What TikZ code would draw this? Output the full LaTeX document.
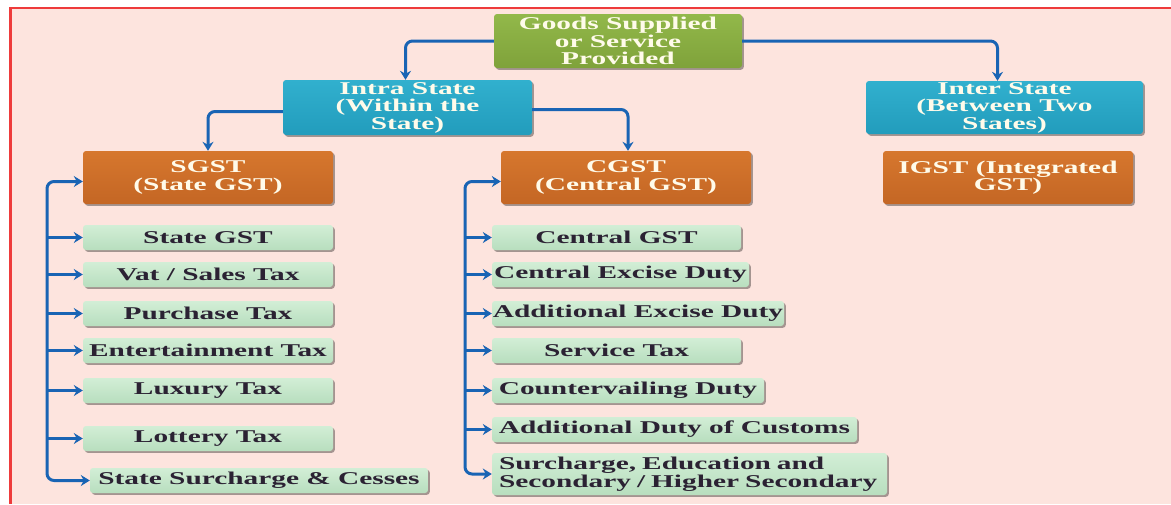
\documentclass[tikz,border=0pt]{standalone}
\usepackage{fontspec}
\newfontfamily\wf{Liberation Serif}[FakeStretch=1.63]
\usetikzlibrary{arrows.meta,shadows,calc}
\definecolor{bgpink}{HTML}{FDE4DE}
\definecolor{redline}{HTML}{EE3B3B}
\definecolor{ablue}{HTML}{1964B4}
\definecolor{gtop}{HTML}{D2EED6}
\definecolor{gbot}{HTML}{B8DEBE}
\definecolor{otop}{HTML}{D6772E}
\definecolor{obot}{HTML}{C46624}
\definecolor{ttop}{HTML}{31B0CE}
\definecolor{tbot}{HTML}{229CBC}
\definecolor{lgtop}{HTML}{92B84A}
\definecolor{lgbot}{HTML}{7FA23A}
\definecolor{dtxt}{HTML}{2B2233}
\definecolor{wtxt}{HTML}{FFFBEA}
\tikzset{
  base/.style={rounded corners=3pt, inner sep=0pt, align=center,
    font=\wf\bfseries\fontsize{18}{17.5}\selectfont,
    drop shadow={shadow xshift=1.8pt, shadow yshift=-1.8pt, fill=black, opacity=0.35}},
  gbox/.style={base, top color=gtop, bottom color=gbot, text=dtxt, minimum height=25pt},
  obox/.style={base, top color=otop, bottom color=obot, text=wtxt, minimum width=250pt, minimum height=53pt},
  tbox/.style={base, top color=ttop, bottom color=tbot, text=wtxt},
  lgbox/.style={base, top color=lgtop, bottom color=lgbot, text=wtxt},
  tip/.style={Stealth[length=9pt,width=11pt,inset=3pt]},
  arr/.style={draw=ablue, line width=3pt, rounded corners=7pt, -{Stealth[length=9pt,width=11pt,inset=3pt]}},
  arrb/.style={draw=ablue, line width=3pt, rounded corners=7pt,
    {Stealth[length=9pt,width=11pt,inset=3pt]}-{Stealth[length=9pt,width=11pt,inset=3pt]}}
}
\begin{document}
\begin{tikzpicture}[x=1pt,y=-1pt]
\useasboundingbox (0,0) rectangle (1171,504);
\fill[white] (0,0) rectangle (1171,504);
\fill[bgpink] (9,8) rectangle (1171,504);
\draw[redline, line width=1.6pt] (9,8) -- (1171,8);
\draw[redline, line width=3pt] (10.5,8) -- (10.5,504);

% top levels
\node[lgbox, minimum width=248pt, minimum height=54pt] (goods) at (618,41) {Goods Supplied\\or Service\\Provided};
\node[tbox, minimum width=249pt, minimum height=55pt] (intra) at (407.5,107.5) {Intra State\\(Within the\\State)};
\node[tbox, minimum width=277pt, minimum height=53pt] (inter) at (1004.5,107.5) {Inter State\\(Between Two\\States)};
\node[obox] (sgst) at (208,177.5) {SGST\\(State GST)};
\node[obox] (cgst) at (626,177.5) {CGST\\(Central GST)};
\node[obox] (igst) at (1008,177.5) {IGST (Integrated\\GST)};

% SGST items
\node[gbox, minimum width=250pt] (s1) at (208,237.5) {State GST};
\node[gbox, minimum width=250pt] (s2) at (208,274.5) {Vat / Sales Tax};
\node[gbox, minimum width=250pt] (s3) at (208,313.5) {Purchase Tax};
\node[gbox, minimum width=250pt] (s4) at (208,350.5) {Entertainment Tax};
\node[gbox, minimum width=250pt] (s5) at (208,390.5) {Luxury Tax};
\node[gbox, minimum width=250pt] (s6) at (208,438.5) {Lottery Tax};
\node[gbox, minimum width=338pt] (s7) at (259,480.5) {State Surcharge \& Cesses};

% CGST items
\node[gbox, minimum width=249pt] (c1) at (616.5,237.5) {Central GST};
\node[gbox, minimum width=257pt] (c2) at (620.5,274.5) {Central Excise Duty};
\node[gbox, minimum width=292pt] (c3) at (638,313.5) {Additional Excise Duty};
\node[gbox, minimum width=249pt] (c4) at (616.5,350.5) {Service Tax};
\node[gbox, minimum width=272pt] (c5) at (628,390.5) {Countervailing Duty};
\node[gbox, minimum width=365pt] (c6) at (674.5,429.5) {Additional Duty of Customs};
\node[gbox, minimum width=395pt, minimum height=42pt, align=left, text width=381pt, inner xsep=7pt] (c7) at (689.5,474) {Surcharge, Education and\\Secondary / Higher Secondary};

% connectors from top
\draw[arr] (goods.west) -| ([xshift=-2pt]intra.north);
\draw[arr] (goods.east) -| ([xshift=-7pt]inter.north);
\draw[arr] ([yshift=-4pt]intra.west) -| (sgst.north);
\draw[arr] ([yshift=-2pt]intra.east) -| ([xshift=2pt]cgst.north);

% left bus
\coordinate (lb) at (47,0);
\draw[arrb] (s7.west) -- (lb |- s7.west) |- ([yshift=-4pt]sgst.west);
\foreach \n in {s1,s2,s3,s4,s5,s6}
  \draw[arr] (lb |- \n.west) -- (\n.west);

% right bus
\coordinate (rb) at (465,0);
\draw[arrb] (c7.west) -- (rb |- c7.west) |- ([yshift=-4pt]cgst.west);
\foreach \n in {c1,c2,c3,c4,c5,c6}
  \draw[arr] (rb |- \n.west) -- (\n.west);
\end{tikzpicture}
\end{document}
